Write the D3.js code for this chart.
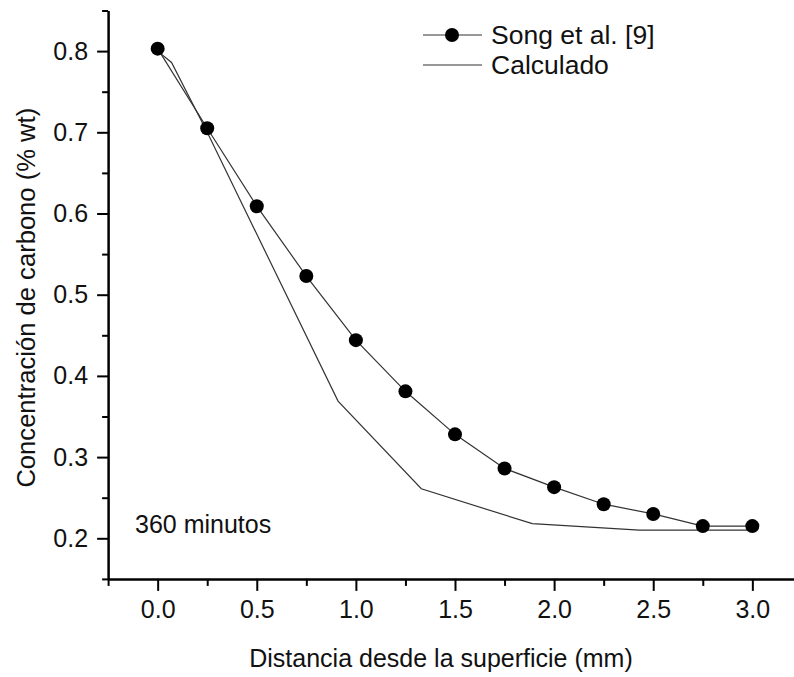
<!DOCTYPE html>
<html>
<head>
<meta charset="utf-8">
<script src="https://d3js.org/d3.v7.min.js"></script>
<style>
    body { margin: 0; background: #fff; }
    svg { display: block; font-family: "Liberation Sans", Arial, sans-serif; }
</style>
</head>
<body>
<svg id="drawing_region"></svg>
<script>
// Song et al. [9] measured points
const song_x = [0.0, 0.25, 0.5, 0.75, 1.0, 1.25, 1.5, 1.75, 2.0, 2.25, 2.5, 2.75, 3.0];
const song_y = [0.803, 0.705, 0.609, 0.523, 0.444, 0.381, 0.328, 0.286, 0.263, 0.242, 0.230, 0.215, 0.215];

// calculated profile
const calc_x = [0.0, 0.07, 0.25, 0.91, 1.33, 1.89, 2.43, 3.0];
const calc_y = [0.800, 0.786, 0.700, 0.369, 0.261, 0.218, 0.210, 0.210];

const x_ticks = [0.0, 0.5, 1.0, 1.5, 2.0, 2.5, 3.0];
const x_minor = [-0.25, 0.25, 0.75, 1.25, 1.75, 2.25, 2.75, 3.25];
const y_ticks = [0.2, 0.3, 0.4, 0.5, 0.6, 0.7, 0.8];
const y_minor = [0.15, 0.25, 0.35, 0.45, 0.55, 0.65, 0.75, 0.85];

const legend_names = ['Song et al. [9]', 'Calculado'];

class LinePlot {

    constructor( config ) {
        this.config = config;
        this.init();
    }

    init() {
        let self = this;

        self.svg = d3.select( self.config.parent )
            .attr('width', self.config.width)
            .attr('height', self.config.height);

        self.xscale = d3.scaleLinear()
            .domain( [-0.25, 3.25] )
            .range( [108.1, 801.9] );

        self.yscale = d3.scaleLinear()
            .domain( [0.15, 0.85] )
            .range( [578.9, 10.5] );
    }

    render() {
        let self = this;
        const fs = 25;

        // minor ticks first, then the major ones with labels
        self.svg.append('g')
            .attr('transform', `translate(0, ${self.yscale(0.15)})`)
            .call( d3.axisBottom(self.xscale).tickValues(x_minor).tickSize(7).tickFormat('') )
            .call( g => g.select('.domain').remove() )
            .selectAll('line').attr('stroke-width', 2);

        const xaxis_group = self.svg.append('g')
            .attr('transform', `translate(0, ${self.yscale(0.15)})`)
            .call( d3.axisBottom(self.xscale)
                .tickValues(x_ticks)
                .tickSize(12)
                .tickSizeOuter(0)
                .tickPadding(9)
                .tickFormat(d3.format('.1f')) );
        xaxis_group.select('.domain').attr('stroke-width', 2.5);
        xaxis_group.selectAll('line').attr('stroke-width', 2);
        xaxis_group.selectAll('text').attr('font-size', fs).attr('fill', '#111').attr('font-family', null);

        self.svg.append('g')
            .attr('transform', `translate(${self.xscale(-0.25)}, 0)`)
            .call( d3.axisLeft(self.yscale).tickValues(y_minor).tickSize(6).tickFormat('') )
            .call( g => g.select('.domain').remove() )
            .selectAll('line').attr('stroke-width', 2);

        const yaxis_group = self.svg.append('g')
            .attr('transform', `translate(${self.xscale(-0.25)}, 0)`)
            .call( d3.axisLeft(self.yscale)
                .tickValues(y_ticks)
                .tickSize(11)
                .tickSizeOuter(0)
                .tickPadding(9)
                .tickFormat(d3.format('.1f')) );
        yaxis_group.select('.domain').attr('stroke-width', 2.5);
        yaxis_group.selectAll('line').attr('stroke-width', 2);
        yaxis_group.selectAll('text').attr('font-size', fs).attr('fill', '#111').attr('font-family', null);

        // axis titles
        self.svg.append('text')
            .attr('x', 441)
            .attr('y', 667)
            .attr('text-anchor', 'middle')
            .attr('font-size', fs)
            .attr('fill', '#111')
            .text('Distancia desde la superficie (mm)');

        self.svg.append('text')
            .attr('transform', `translate(35, ${self.yscale(0.5) + 3}) rotate(-90)`)
            .attr('text-anchor', 'middle')
            .attr('font-size', 25.6)
            .attr('fill', '#111')
            .text('Concentración de carbono (% wt)');

        self.svg.append('text')
            .attr('x', 135)
            .attr('y', 533)
            .attr('font-size', fs)
            .attr('fill', '#111')
            .text('360 minutos');

        const line = d3.line()
            .x( d => self.xscale(d[0]) )
            .y( d => self.yscale(d[1]) );

        const calc_data = calc_x.map( (d, i) => [d, calc_y[i]] );
        const song_data = song_x.map( (d, i) => [d, song_y[i]] );

        self.svg.append('path')
            .datum(calc_data)
            .attr('d', line)
            .attr('fill', 'none')
            .attr('stroke', '#333')
            .attr('stroke-width', 1.2);

        self.svg.append('path')
            .datum(song_data)
            .attr('d', line)
            .attr('fill', 'none')
            .attr('stroke', '#333')
            .attr('stroke-width', 1.2);

        self.svg.selectAll('circle.song')
            .data(song_data)
            .enter()
            .append('circle')
            .attr('class', 'song')
            .attr('cx', d => self.xscale(d[0]) )
            .attr('cy', d => self.yscale(d[1]) )
            .attr('r', 7)
            .attr('fill', '#000');

        // legend
        const legend = self.svg.append('g');
        legend_names.forEach( (name, i) => {
            const ly = 35 + i * 30;
            legend.append('line')
                .attr('x1', 423).attr('x2', 482)
                .attr('y1', ly).attr('y2', ly)
                .attr('stroke', '#333')
                .attr('stroke-width', 1.2);
            if ( i == 0 ) {
                legend.append('circle')
                    .attr('cx', 452).attr('cy', ly)
                    .attr('r', 7)
                    .attr('fill', '#000');
            }
            legend.append('text')
                .attr('x', 491)
                .attr('y', ly + 9)
                .attr('font-size', 26.5)
                .attr('fill', '#111')
                .text(name);
        });
    }
}

const plot = new LinePlot({
    parent: '#drawing_region',
    width: 794,
    height: 677
});
plot.render();
</script>
</body>
</html>
